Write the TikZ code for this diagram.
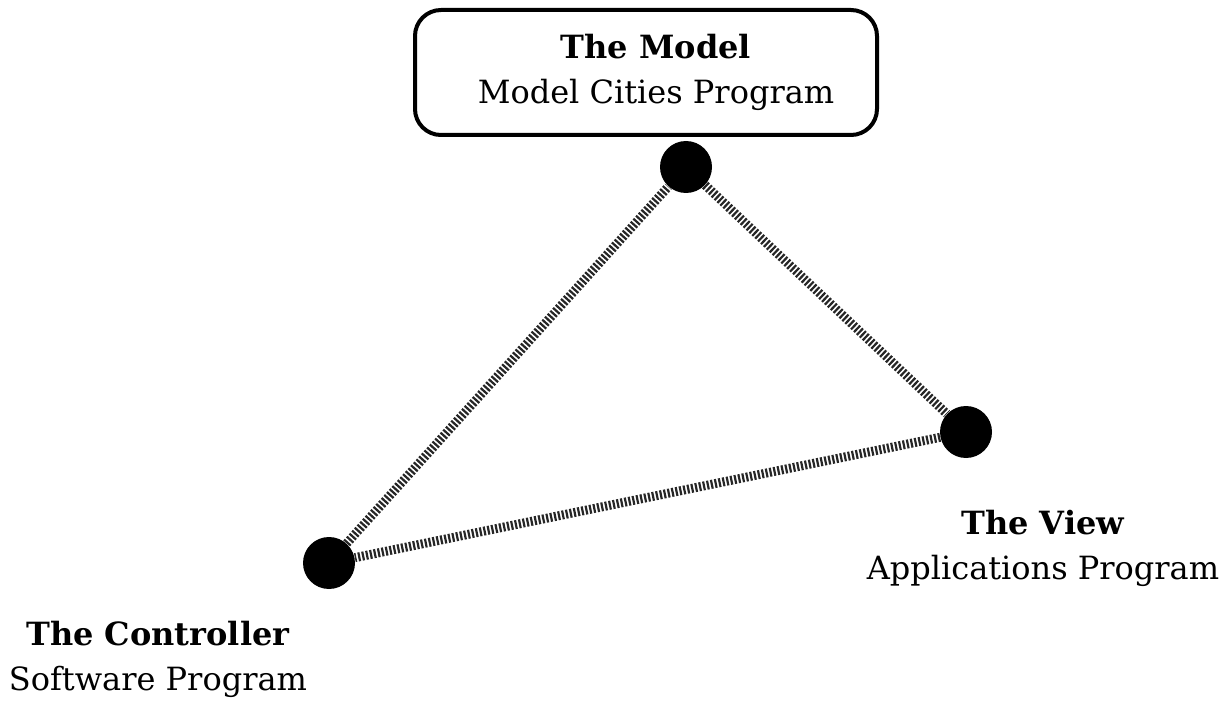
\documentclass[tikz,border=0pt]{standalone}
\usepackage{fontspec}
\setmainfont{DejaVu Serif}

\begin{document}
\begin{tikzpicture}[x = 0.5pt, y = -0.5pt,
 dot/.style = {circle, fill = black, minimum size = 26pt, inner sep = 0pt},
 link/.style = {line width = 4.5pt, black!85, dash pattern = on 1.1pt off 0.9pt},
 caption/.style = {align = center, font = \fontsize{16}{22.5}\selectfont}]
 \useasboundingbox (0, 0) rectangle (1223, 701);

 \draw[line width = 2pt, rounded corners = 13pt] (415, 10) rectangle (877, 135);
 \node[caption] (model) at (656, 72) {\textbf{The Model}\\ Model Cities Program};
 \node[caption] (view) at (1043, 548) {\textbf{The View}\\ Applications Program};
 \node[caption] (controller) at (158, 659) {\textbf{The Controller}\\ Software Program};

 \node[dot] (M) at (686, 167) {};
 \node[dot] (V) at (966, 432) {};
 \node[dot] (C) at (329, 563) {};

 \draw[link] (M) -- (V);
 \draw[link] (V) -- (C);
 \draw[link] (C) -- (M);
\end{tikzpicture}
\end{document}
